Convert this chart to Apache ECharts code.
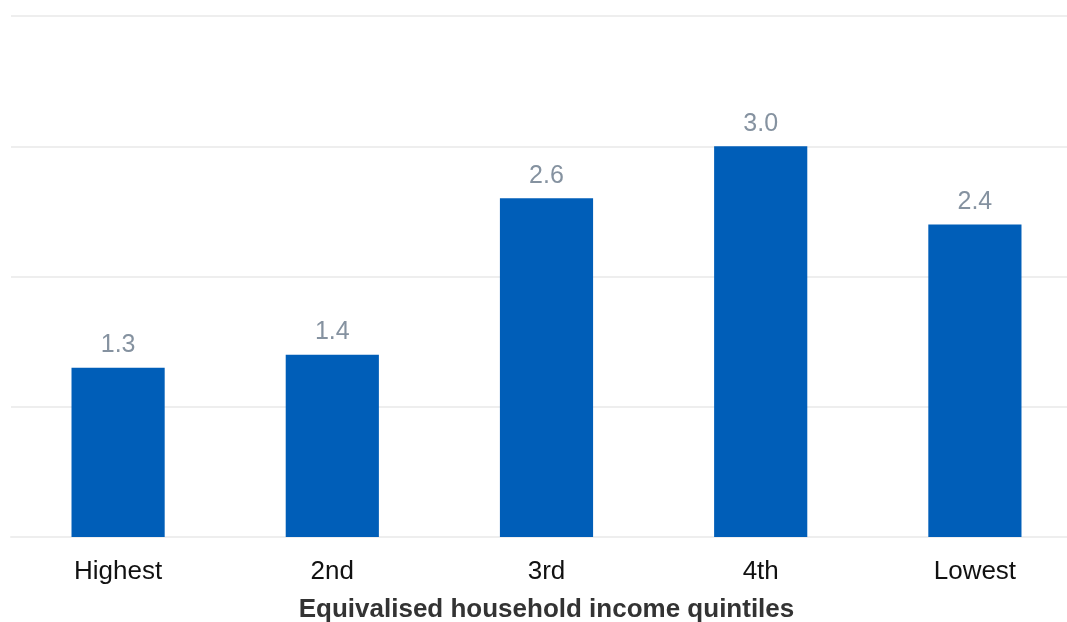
<!DOCTYPE html>
<html>
<head>
<meta charset="utf-8">
<script src="https://cdn.jsdelivr.net/npm/echarts@6/dist/echarts.min.js"></script>
<style>
  html, body { margin: 0; padding: 0; background: #ffffff; }
  #chart { width: 1067px; height: 622px; }
</style>
</head>
<body>
<div id="chart"></div>
<script>
// Quintiles of equivalised household income
const categories = ['Highest', '2nd', '3rd', '4th', 'Lowest'];
const values = [1.3, 1.4, 2.6, 3.0, 2.4];

const chart = echarts.init(document.getElementById('chart'), null, { renderer: 'canvas' });

chart.setOption({
  animation: false,
  backgroundColor: '#ffffff',
  grid: {
    left: 11, right: -15, top: 16, bottom: 85,
    containLabel: false,
    outerBoundsMode: 'none'
  },
  xAxis: {
    type: 'category',
    data: categories,
    axisLine: { show: true, lineStyle: { color: '#eeeeee', width: 2 } },
    axisTick: { show: false },
    axisLabel: {
      color: '#111111',
      fontFamily: 'Liberation Sans, Arial, sans-serif',
      fontSize: 26,
      margin: 22
    },
    name: 'Equivalised household income quintiles',
    nameLocation: 'middle',
    nameGap: 60,
    nameTextStyle: {
      color: '#333333',
      fontFamily: 'Liberation Sans, Arial, sans-serif',
      fontSize: 26,
      fontWeight: 'bold',
      verticalAlign: 'top'
    }
  },
  yAxis: {
    type: 'value',
    min: 0,
    max: 4,
    interval: 1,
    axisLine: { show: false },
    axisTick: { show: false },
    axisLabel: { show: false },
    splitLine: { show: true, lineStyle: { color: '#eeeeee', width: 2 } }
  },
  series: [{
    type: 'bar',
    data: values,
    barWidth: '43.5%',
    itemStyle: { color: '#005EB8' },
    label: {
      show: true,
      position: 'top',
      distance: 10,
      color: '#8592a0',
      fontFamily: 'Liberation Sans, Arial, sans-serif',
      fontSize: 25,
      formatter: p => p.value.toFixed(1)
    }
  }]
});
</script>
</body>
</html>
